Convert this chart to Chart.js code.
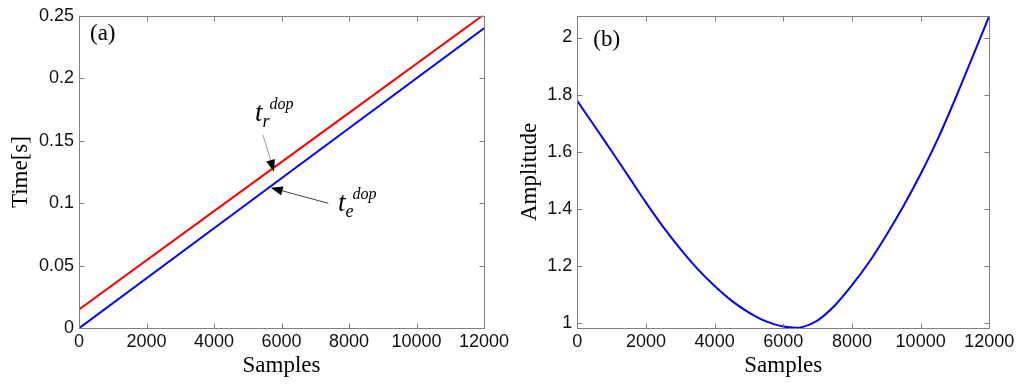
<!DOCTYPE html>
<html>
<head>
<meta charset="utf-8">
<script src="https://cdn.jsdelivr.net/npm/chart.js@4.4.0/dist/chart.umd.min.js"></script>
<style>
html, body { margin: 0; padding: 0; background: #fff; }
#wrap { position: relative; width: 1024px; height: 389px; overflow: hidden; }
canvas { position: absolute; top: 0; }
#chartA { left: 0; }
#chartB { left: 500px; }
</style>
</head>
<body>
<div id="wrap">
  <canvas id="chartA" width="514" height="389"></canvas>
  <canvas id="chartB" width="524" height="389"></canvas>
</div>
<script>
// (a) delays vs sample index
const samplesA = [0, 4000, 8000, 12000];
const tRecv = [0.015, 0.0937, 0.1723, 0.251];   // t_r^dop (red)
const tEmit = [0, 0.08, 0.16, 0.24];            // t_e^dop (blue)

// (b) amplitude vs sample index
const samplesB = [0, 500, 1000, 1500, 2000, 2500, 3000, 3500, 4000, 4500, 5000, 5500, 6000,
                  6500, 7000, 7500, 8000, 8500, 9000, 9500, 10000, 10500, 11000, 11500, 12000];
const amplitude = [1.778, 1.690, 1.602, 1.512, 1.422, 1.337, 1.260, 1.190, 1.130, 1.078, 1.037, 1.006, 0.988,
                   0.985, 1.010, 1.062, 1.133, 1.214, 1.308, 1.410, 1.522, 1.645, 1.783, 1.929, 2.076];

// tick labels
const xTicks = [0, 2000, 4000, 6000, 8000, 10000, 12000];
const yTicksA = [0, 0.05, 0.1, 0.15, 0.2, 0.25];
const yTicksB = [1, 1.2, 1.4, 1.6, 1.8, 2];

const axisGray = '#808080';
const tickFont = { family: '"Liberation Sans", Arial, sans-serif', size: 18 };
const titleFont = { family: '"Liberation Serif", "Times New Roman", serif', size: 23 };

function toPoints(xs, ys) {
    return xs.map((x, i) => ({ x: x, y: ys[i] }));
}

// Matlab style box with inward ticks on all four sides
const boxPlugin = {
    id: 'matlabBox',
    afterDraw(chart) {
        const ctx = chart.ctx;
        const a = chart.chartArea;
        const sx = chart.scales.x, sy = chart.scales.y;
        const L = Math.round(a.left) + 0.5, R = Math.round(a.right) + 0.5;
        const T = Math.round(a.top) + 0.5, B = Math.round(a.bottom) + 0.5;
        ctx.save();
        ctx.strokeStyle = axisGray;
        ctx.lineWidth = 1;
        ctx.strokeRect(L, T, R - L, B - T);
        ctx.beginPath();
        sx.ticks.forEach(t => {
            const px = Math.round(sx.getPixelForValue(t.value)) + 0.5;
            ctx.moveTo(px, B); ctx.lineTo(px, B - 5);
            ctx.moveTo(px, T); ctx.lineTo(px, T + 5);
        });
        sy.ticks.forEach(t => {
            const py = Math.round(sy.getPixelForValue(t.value)) + 0.5;
            ctx.moveTo(L, py); ctx.lineTo(L + 5, py);
            ctx.moveTo(R, py); ctx.lineTo(R - 5, py);
        });
        ctx.stroke();
        ctx.restore();
    }
};

function drawArrow(ctx, x0, y0, x1, y1, color) {
    const ang = Math.atan2(y1 - y0, x1 - x0);
    const len = 12, half = 4.5;
    ctx.strokeStyle = color;
    ctx.lineWidth = 1;
    ctx.beginPath();
    ctx.moveTo(x0, y0);
    ctx.lineTo(x1 - Math.cos(ang) * len, y1 - Math.sin(ang) * len);
    ctx.stroke();
    ctx.fillStyle = '#000';
    ctx.beginPath();
    ctx.moveTo(x1, y1);
    ctx.lineTo(x1 - Math.cos(ang) * len - Math.sin(ang) * half, y1 - Math.sin(ang) * len + Math.cos(ang) * half);
    ctx.lineTo(x1 - Math.cos(ang) * len + Math.sin(ang) * half, y1 - Math.sin(ang) * len - Math.cos(ang) * half);
    ctx.closePath();
    ctx.fill();
}

function drawTLabel(ctx, x, y, sub) {
    const serif = '"Liberation Serif", "Times New Roman", serif';
    ctx.fillStyle = '#000';
    ctx.textBaseline = 'alphabetic';
    ctx.textAlign = 'left';
    ctx.font = 'italic 27px ' + serif;
    ctx.fillText('t', x, y);
    const w = ctx.measureText('t').width;
    ctx.font = 'italic 18px ' + serif;
    ctx.fillText(sub, x + w, y + 6);
    ctx.font = 'italic 16px ' + serif;
    ctx.fillText('dop', x + w + 7, y - 12);
}

const notesA = {
    id: 'notesA',
    afterDraw(chart) {
        const ctx = chart.ctx, a = chart.chartArea;
        const sx = chart.scales.x, sy = chart.scales.y;
        const X = v => sx.getPixelForValue(v), Y = v => sy.getPixelForValue(v);
        ctx.save();
        ctx.fillStyle = '#000';
        ctx.font = '23px "Liberation Serif", "Times New Roman", serif';
        ctx.textBaseline = 'alphabetic';
        ctx.fillText('(a)', a.left + 11, a.top + 24);
        drawArrow(ctx, X(5452), Y(0.1547), X(5778), Y(0.1253), '#9a9a9a');
        drawArrow(ctx, X(7387), Y(0.1), X(5680), Y(0.1125), '#444');
        drawTLabel(ctx, X(5215), Y(0.1658), 'r');
        drawTLabel(ctx, X(7674), Y(0.0938), 'e');
        ctx.restore();
    }
};

const notesB = {
    id: 'notesB',
    afterDraw(chart) {
        const ctx = chart.ctx, a = chart.chartArea;
        ctx.save();
        ctx.fillStyle = '#000';
        ctx.font = '23px "Liberation Serif", "Times New Roman", serif';
        ctx.textBaseline = 'alphabetic';
        ctx.fillText('(b)', a.left + 16, a.top + 30);
        ctx.restore();
    }
};

function makeScales(yMin, yMax, yTicks, yTitle, yAxisWidth, yTitlePad, xAxisHeight) {
    return {
        x: {
            type: 'linear',
            min: 0,
            max: 12000,
            afterBuildTicks: s => { s.ticks = xTicks.map(v => ({ value: v })); },
            afterFit: s => { s.height = xAxisHeight; },
            grid: { display: false, drawTicks: false },
            border: { display: false },
            ticks: { font: tickFont, color: '#111', padding: 3, maxRotation: 0, callback: v => String(v) },
            title: { display: true, text: 'Samples', font: titleFont, color: '#000', padding: { top: 0, bottom: 9.7 } }
        },
        y: {
            type: 'linear',
            min: yMin,
            max: yMax,
            afterBuildTicks: s => { s.ticks = yTicks.map(v => ({ value: v })); },
            afterFit: s => { s.width = yAxisWidth; },
            grid: { display: false, drawTicks: false },
            border: { display: false },
            ticks: { font: tickFont, color: '#111', padding: 5, callback: v => String(v) },
            title: { display: true, text: yTitle, font: titleFont, color: '#000', padding: { top: yTitlePad, bottom: 0 } }
        }
    };
}

const commonOpts = {
    responsive: false,
    animation: false,
    devicePixelRatio: 1,
    plugins: { legend: { display: false }, tooltip: { enabled: false } },
    elements: { point: { radius: 0 } }
};

new Chart(document.getElementById('chartA'), {
    type: 'line',
    data: {
        datasets: [
            { label: 't_r^dop', data: toPoints(samplesA, tRecv), borderColor: '#ff0000', borderWidth: 2, fill: false },
            { label: 't_e^dop', data: toPoints(samplesA, tEmit), borderColor: '#0000ff', borderWidth: 2, fill: false }
        ]
    },
    options: Object.assign({}, commonOpts, {
        layout: { padding: { top: 15.7, right: 30, bottom: 0, left: 0 } },
        scales: makeScales(0, 0.25, yTicksA, 'Time[s]', 79, 7.2, 60.7)
    }),
    plugins: [boxPlugin, notesA]
});

new Chart(document.getElementById('chartB'), {
    type: 'line',
    data: {
        datasets: [
            { label: 'Amplitude', data: toPoints(samplesB, amplitude), borderColor: '#0000ff', borderWidth: 2,
              fill: false, tension: 0.3 }
        ]
    },
    options: Object.assign({}, commonOpts, {
        layout: { padding: { top: 12.3, right: 34.7, bottom: 0, left: 0 } },
        scales: makeScales(0.983, 2.076, yTicksB, 'Amplitude', 77.3, 16.2, 61)
    }),
    plugins: [boxPlugin, notesB]
});
</script>
</body>
</html>
